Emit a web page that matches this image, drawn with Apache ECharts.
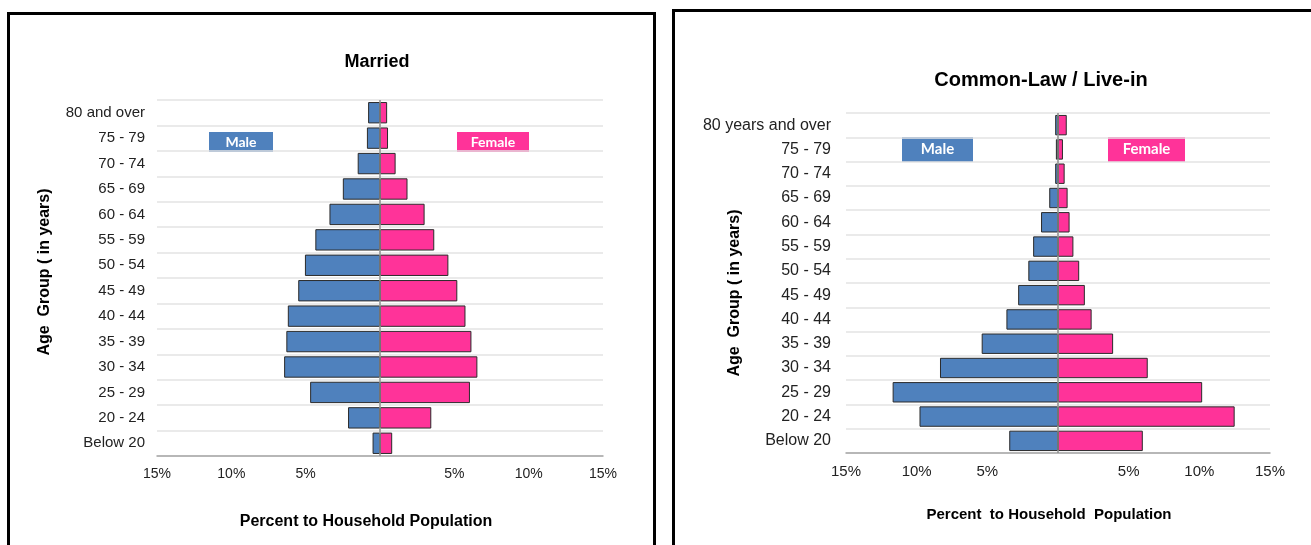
<!DOCTYPE html>
<html lang="en">
<head>
<meta charset="UTF-8">
<title>Married / Common-Law population pyramids</title>
<script src="https://cdn.jsdelivr.net/npm/echarts@6/dist/echarts.min.js"></script>
<style>
  html, body { margin: 0; padding: 0; background: #fff; }
  #container { width: 1311px; height: 545px; }
</style>
</head>
<body>
<div id="container"></div>
<script type="text/javascript">
// age groups, top to bottom
var ageMarried = ['80 and over', '75 - 79', '70 - 74', '65 - 69', '60 - 64', '55 - 59', '50 - 54',
                  '45 - 49', '40 - 44', '35 - 39', '30 - 34', '25 - 29', '20 - 24', 'Below 20'];
var ageLivein = ['80 years and over', '75 - 79', '70 - 74', '65 - 69', '60 - 64', '55 - 59', '50 - 54',
                 '45 - 49', '40 - 44', '35 - 39', '30 - 34', '25 - 29', '20 - 24', 'Below 20'];

// percent to household population (same order)
var marriedMale   = [0.8, 0.88, 1.5, 2.5, 3.4, 4.35, 5.05, 5.5, 6.2, 6.3, 6.45, 4.7, 2.15, 0.5];
var marriedFemale = [0.48, 0.54, 1.05, 1.85, 3.0, 3.65, 4.6, 5.2, 5.75, 6.15, 6.55, 6.05, 3.45, 0.82];
var liveinMale    = [0.2, 0.15, 0.2, 0.62, 1.2, 1.76, 2.1, 2.82, 3.65, 5.4, 8.35, 11.7, 9.8, 3.45];
var liveinFemale  = [0.62, 0.35, 0.47, 0.68, 0.82, 1.09, 1.5, 1.9, 2.38, 3.9, 6.35, 10.2, 12.5, 6.0];

var titles = ['Married', 'Common-Law / Live-in'];
var xTitles = ['Percent to Household Population', 'Percent  to Household  Population'];
var yTitle = 'Age  Group ( in years)';

var MALE = '#4f81bd', FEMALE = '#ff3399', FONT = 'Liberation Sans, Arial, sans-serif';

var dom = document.getElementById('container');
var myChart = echarts.init(dom, null, { renderer: 'canvas' });

function neg(arr) { return arr.map(function (v) { return -v; }); }
function pctLabel(v) { return v === 0 ? '' : Math.abs(v) + '%'; }

function xAxisOf(idx, fs) {
    return {
        gridIndex: idx, type: 'value', min: -15, max: 15, interval: 5,
        axisLine: { show: true, lineStyle: { color: '#a6a6a6', width: 1.5 } },
        axisTick: { show: false },
        splitLine: { show: false },
        axisLabel: { formatter: pctLabel, fontFamily: FONT, fontSize: fs, color: '#222', margin: 11 }
    };
}
function yAxisOf(idx, cats, fs, margin) {
    return {
        gridIndex: idx, type: 'category', data: cats, inverse: true,
        axisLine: { show: false }, axisTick: { show: false },
        splitLine: { show: true, lineStyle: { color: '#e3e3e3', width: 1.5 } },
        axisLabel: { fontFamily: FONT, fontSize: fs, color: '#222', margin: margin }
    };
}
function barOf(idx, data, color, withLine) {
    var s = {
        type: 'bar', xAxisIndex: idx, yAxisIndex: idx, stack: 'p' + idx,
        barCategoryGap: '16%', data: data,
        itemStyle: { color: color, borderColor: '#2b2b2b', borderWidth: 1 },
        animation: false
    };
    if (withLine) {
        s.markLine = {
            silent: true, symbol: 'none', z: 10, label: { show: false },
            lineStyle: { color: '#8c8c8c', width: 1.5, type: 'solid' },
            data: [{ xAxis: 0 }]
        };
    }
    return s;
}
function legendBox(x, y, w, h, color, text, fs) {
    return {
        type: 'group', left: x, top: y,
        children: [
            { type: 'rect', shape: { x: 0, y: 0, width: w, height: h }, style: { fill: color } },
            { type: 'text', x: w / 2, y: h / 2,
              style: { text: text, fill: '#fff', font: 'bold ' + fs + 'px Lato, sans-serif', textAlign: 'center', textVerticalAlign: 'middle' } }
        ]
    };
}
function label(text, x, y, fs, rot) {
    return {
        type: 'text', x: x, y: y, rotation: rot || 0, silent: true,
        style: { text: text, fill: '#000', font: 'bold ' + fs + 'px ' + FONT, textAlign: 'center', textVerticalAlign: 'middle' }
    };
}

option = {
    backgroundColor: '#fff',
    title: [
        { text: titles[0], left: 372, top: 48, textAlign: 'center',
          textStyle: { fontFamily: FONT, fontWeight: 'bold', fontSize: 18, color: '#000' } },
        { text: titles[1], left: 1036, top: 65, textAlign: 'center',
          textStyle: { fontFamily: FONT, fontWeight: 'bold', fontSize: 20, color: '#000' } }
    ],
    grid: [
        { left: 157, right: 708, top: 100, bottom: 89 },
        { left: 846, right: 41, top: 113, bottom: 92 }
    ],
    xAxis: [xAxisOf(0, 14), xAxisOf(1, 15)],
    yAxis: [yAxisOf(0, ageMarried, 15, 12), yAxisOf(1, ageLivein, 16, 15)],
    series: [
        barOf(0, neg(marriedMale), MALE, false),
        barOf(0, marriedFemale, FEMALE, true),
        barOf(1, neg(liveinMale), MALE, false),
        barOf(1, liveinFemale, FEMALE, true)
    ],
    graphic: [
        { type: 'rect', shape: { x: 8.5, y: 13.5, width: 646, height: 600 },
          style: { fill: 'none', stroke: '#000', lineWidth: 3 }, silent: true },
        { type: 'rect', shape: { x: 673.5, y: 10.5, width: 700, height: 600 },
          style: { fill: 'none', stroke: '#000', lineWidth: 3 }, silent: true },
        legendBox(209, 132, 64, 20, MALE, 'Male', 14),
        legendBox(457, 132, 72, 20, FEMALE, 'Female', 14),
        legendBox(902, 137, 71, 25, MALE, 'Male', 15),
        legendBox(1108, 137, 77, 25, FEMALE, 'Female', 15),
        label(xTitles[0], 366, 522, 16),
        label(xTitles[1], 1049, 515, 15),
        label(yTitle, 45, 272, 16, Math.PI / 2),
        label(yTitle, 735, 293, 16, Math.PI / 2)
    ]
};

if (option && typeof option === 'object') {
    myChart.setOption(option, true);
}
</script>
</body>
</html>
